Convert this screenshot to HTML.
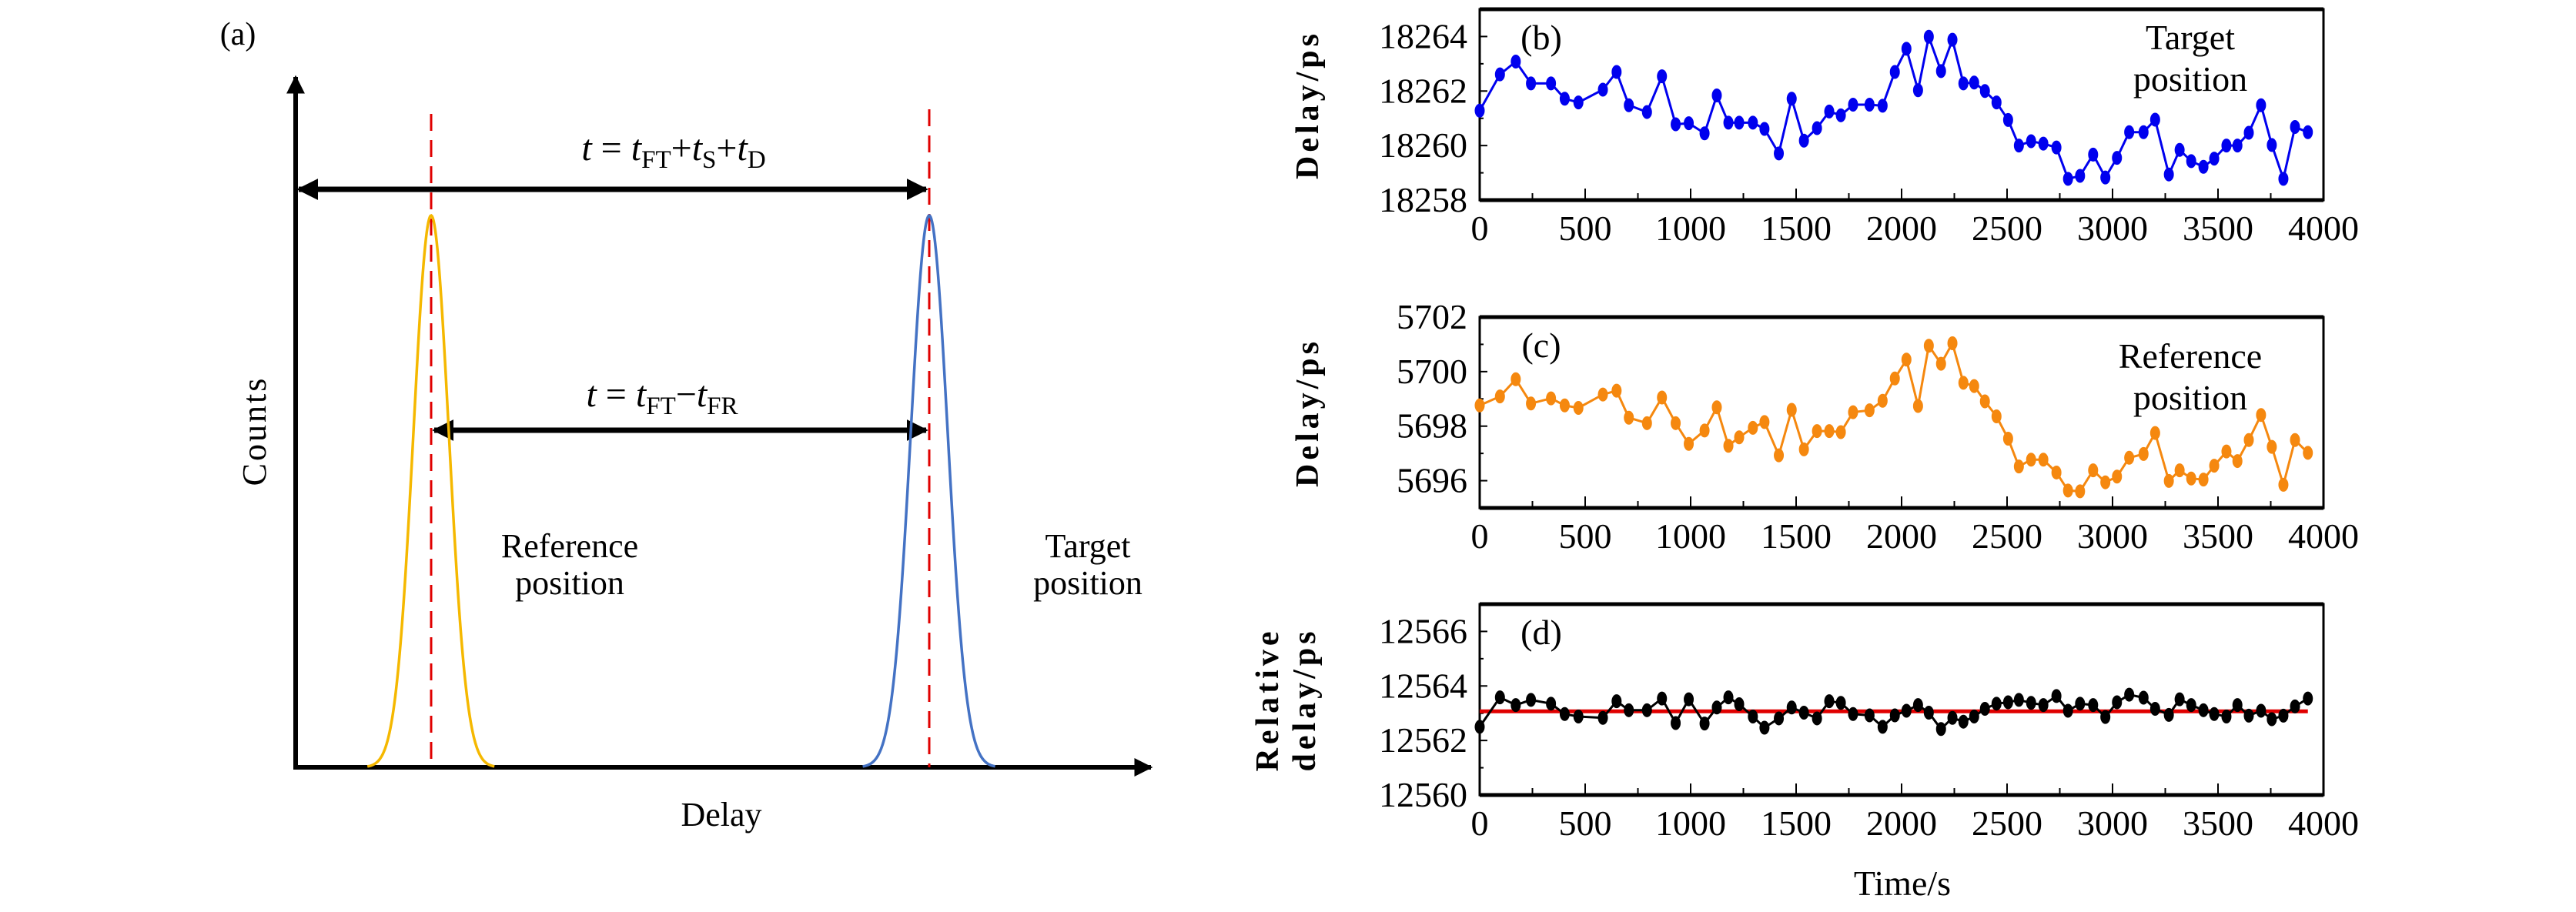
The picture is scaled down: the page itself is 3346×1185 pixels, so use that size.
<!DOCTYPE html>
<html><head><meta charset="utf-8"><style>
html,body{margin:0;padding:0;background:#fff;}
svg{display:block;font-family:"Liberation Serif","DejaVu Serif",serif;}
svg text{font-family:"Liberation Serif","DejaVu Serif",serif;fill:#000;}
</style></head><body>
<svg id="fig" width="3346" height="1185" viewBox="0 0 3346 1185" xmlns="http://www.w3.org/2000/svg" font-family="Liberation Serif, serif">
<defs>
<marker id="ah" viewBox="0 0 10 10" refX="9" refY="5" markerWidth="4" markerHeight="4" orient="auto-start-reverse"><path d="M0,0 L10,5 L0,10 z" fill="#000"/></marker>
</defs>
<g id="panelA">
<text x="309" y="58" font-size="42" text-anchor="middle">(a)</text>
<line x1="384" y1="997" x2="384" y2="100" stroke="#000" stroke-width="6" marker-end="url(#ah)"/>
<line x1="381" y1="997" x2="1495" y2="997" stroke="#000" stroke-width="6" marker-end="url(#ah)"/>
<text transform="translate(345,560) rotate(-90)" font-size="44" text-anchor="middle" letter-spacing="3">Counts</text>
<text x="937" y="1073" font-size="44" text-anchor="middle">Delay</text>
<line x1="560" y1="148" x2="560" y2="997" stroke="#e00000" stroke-width="3" stroke-dasharray="22,12"/>
<line x1="1207" y1="142" x2="1207" y2="997" stroke="#e00000" stroke-width="3" stroke-dasharray="22,12"/>
<line x1="388" y1="246" x2="1203" y2="246" stroke="#000" stroke-width="7" marker-start="url(#ah)" marker-end="url(#ah)"/>
<line x1="564" y1="559" x2="1203" y2="559" stroke="#000" stroke-width="7" marker-start="url(#ah)" marker-end="url(#ah)"/>
<text x="875" y="208" font-size="48" text-anchor="middle"><tspan font-style="italic">t</tspan> = <tspan font-style="italic">t</tspan><tspan font-size="33" dy="10">FT</tspan><tspan dy="-10">+</tspan><tspan font-style="italic">t</tspan><tspan font-size="33" dy="10">S</tspan><tspan dy="-10">+</tspan><tspan font-style="italic">t</tspan><tspan font-size="33" dy="10">D</tspan></text>
<text x="860" y="528" font-size="48" text-anchor="middle"><tspan font-style="italic">t</tspan> = <tspan font-style="italic">t</tspan><tspan font-size="33" dy="10">FT</tspan><tspan dy="-10">−</tspan><tspan font-style="italic">t</tspan><tspan font-size="33" dy="10">FR</tspan></text>
<text x="740" y="724" font-size="44" text-anchor="middle">Reference</text>
<text x="740" y="772" font-size="44" text-anchor="middle">position</text>
<text x="1413" y="724" font-size="44" text-anchor="middle">Target</text>
<text x="1413" y="772" font-size="44" text-anchor="middle">position</text>
</g>
<g id="charts"></g>
</svg>
<script>
const times = [0,96,171,243,338,403,468,584,649,707,793,864,929,991,1066,1124,1179,1230,1295,1350,1418,1479,1537,1599,1657,1712,1770,1848,1910,1968,2023,2078,2129,2187,2241,2293,2344,2395,2450,2505,2556,2614,2672,2734,2789,2846,2908,2966,3021,3079,3147,3202,3267,3318,3373,3431,3482,3540,3592,3646,3704,3755,3810,3865,3926];
const targetDelay = [18261.28,18262.61,18263.08,18262.28,18262.28,18261.72,18261.58,18262.05,18262.7,18261.48,18261.23,18262.54,18260.78,18260.82,18260.45,18261.84,18260.84,18260.84,18260.84,18260.61,18259.71,18261.72,18260.18,18260.64,18261.25,18261.11,18261.5,18261.5,18261.46,18262.7,18263.55,18262.03,18263.99,18262.73,18263.88,18262.28,18262.31,18262.0,18261.58,18260.94,18260.0,18260.16,18260.07,18259.93,18258.78,18258.89,18259.67,18258.83,18259.55,18260.49,18260.49,18260.95,18258.94,18259.84,18259.43,18259.22,18259.52,18260.0,18260.0,18260.47,18261.48,18260.02,18258.78,18260.68,18260.49];
const referenceDelay = [5698.76,5699.09,5699.72,5698.83,5699.02,5698.76,5698.67,5699.16,5699.3,5698.31,5698.11,5699.05,5698.11,5697.35,5697.84,5698.69,5697.28,5697.59,5697.94,5698.15,5696.93,5698.6,5697.15,5697.82,5697.82,5697.78,5698.51,5698.58,5698.93,5699.75,5700.44,5698.74,5700.95,5700.29,5701.04,5699.59,5699.47,5698.91,5698.36,5697.54,5696.52,5696.77,5696.77,5696.3,5695.64,5695.61,5696.38,5695.94,5696.15,5696.84,5696.98,5697.75,5695.99,5696.38,5696.08,5696.04,5696.55,5697.07,5696.72,5697.49,5698.41,5697.24,5695.85,5697.49,5697.02];
const relativeDelay = [12562.5,12563.58,12563.3,12563.49,12563.35,12562.97,12562.88,12562.83,12563.44,12563.11,12563.11,12563.54,12562.64,12563.51,12562.62,12563.21,12563.58,12563.33,12562.88,12562.47,12562.81,12563.21,12563.02,12562.81,12563.44,12563.38,12562.97,12562.92,12562.5,12562.92,12563.09,12563.3,12563.02,12562.42,12562.83,12562.69,12562.88,12563.16,12563.35,12563.4,12563.49,12563.38,12563.3,12563.63,12563.09,12563.35,12563.3,12562.86,12563.4,12563.68,12563.57,12563.16,12562.94,12563.51,12563.3,12563.11,12562.97,12562.88,12563.3,12562.91,12563.09,12562.78,12562.91,12563.25,12563.54];
const relativeMean = 12563.07;
const xTicks = [0,500,1000,1500,2000,2500,3000,3500,4000];
const bTicks = [18258,18260,18262,18264];
const cTicks = [5696,5698,5700,5702];
const dTicks = [12560,12562,12564,12566];

const NS = "http://www.w3.org/2000/svg";
const root = document.getElementById('charts');
function mk(tag, attrs, parent){const e=document.createElementNS(NS,tag);for(const k in attrs)e.setAttribute(k,attrs[k]);(parent||root).appendChild(e);return e;}

function peak(cx, sigma, color, name){
  let d='';
  for(let i=-3.6*sigma;i<=3.6*sigma;i+=1){
    const y=997-(997-280)*Math.exp(-(i*i)/(2*sigma*sigma));
    d+=(d?'L':'M')+(cx+i).toFixed(1)+','+y.toFixed(1);
  }
  const p=mk('path',{d:d,fill:'none',stroke:color,'stroke-width':3.5});
  
  
}
peak(560,23,'#f5b800','reference-peak-curve');
peak(1207,24,'#4472c4','target-peak-curve');

function chart(o){
  const L=1922,R=3018,T=o.top,B=o.top+248;
  const g=mk('g',{});
  
  
  const sx=v=>L+(R-L)*v/4000;
  const sy=v=>B-(B-T)*(v-o.min)/(o.max-o.min);
  const box=mk('rect',{x:L,y:T,width:R-L,height:B-T,fill:'none',stroke:'#000','stroke-width':3},g);
  
  
  mk('line',{x1:L,y1:T,x2:R,y2:T,stroke:'#000','stroke-width':5},g);
  mk('line',{x1:L,y1:B,x2:R,y2:B,stroke:'#000','stroke-width':5},g);
  for(let v=0;v<=4000;v+=250){
    const major=v%500===0;
    mk('line',{x1:sx(v),y1:B,x2:sx(v),y2:B-(major?15:9),stroke:'#000','stroke-width':2},g);
  }
  xTicks.forEach(v=>{
    const t=mk('text',{x:sx(v),y:B+52,'font-size':46,'text-anchor':'middle'},g);t.textContent=v;
    
    
  });
  for(let v=o.min;v<=o.max;v+=1){
    mk('line',{x1:L,y1:sy(v),x2:L+((v-o.ticks[0])%2===0?10:5),y2:sy(v),stroke:'#000','stroke-width':2},g);
  }
  o.ticks.forEach(v=>{
    const t=mk('text',{x:L-16,y:sy(v)+15,'font-size':46,'text-anchor':'end'},g);t.textContent=v;
    
    
  });
  const yl=mk('text',{transform:`translate(${o.ylx},${(T+B)/2}) rotate(-90)`,'font-size':42,'font-weight':'bold','text-anchor':'middle','letter-spacing':5},g);
  
  
  o.ylabel.forEach((s,i)=>{const ts=mk('tspan',{x:0,dy:i?48:0},yl);ts.textContent=s;});
  if(o.mean!==undefined){
    const ml=mk('line',{x1:sx(0),y1:sy(o.mean),x2:sx(3926),y2:sy(o.mean),stroke:'#e00000','stroke-width':5},g);
    
    
  }
  const d=times.map((t,i)=>(i?'L':'M')+sx(t).toFixed(1)+','+sy(o.vals[i]).toFixed(1)).join('');
  const ln=mk('path',{d:d,fill:'none',stroke:o.color,'stroke-width':3},g);
  
  
  times.forEach((t,i)=>{
    const c=mk('ellipse',{cx:sx(t),cy:sy(o.vals[i]),rx:6.5,ry:9,fill:o.color},g);
    
    
  });
  const pl=mk('text',{x:L+80,y:T+52,'font-size':46,'text-anchor':'middle'},g);pl.textContent=o.label;
  
  
  (o.note||[]).forEach((s,i)=>{
    const t=mk('text',{x:2845,y:T+o.noteY+i*54,'font-size':46,'text-anchor':'middle'},g);t.textContent=s;
    
    
  });
  return {sx,sy,B};
}
chart({name:'panel-b-target-chart',top:12,min:18258,max:18265,ticks:bTicks,vals:targetDelay,color:'#0000ee',label:'(b)',ylabel:['Delay/ps'],ylx:1712,note:['Target','position'],noteY:52});
chart({name:'panel-c-reference-chart',top:412,min:5695,max:5702,ticks:cTicks,vals:referenceDelay,color:'#f5880f',label:'(c)',ylabel:['Delay/ps'],ylx:1712,note:['Reference','position'],noteY:66});
chart({name:'panel-d-relative-chart',top:785,min:12560,max:12567,ticks:dTicks,vals:relativeDelay,color:'#000',label:'(d)',ylabel:['Relative','delay/ps'],ylx:1660,mean:relativeMean});
const xt=mk('text',{x:2471,y:1163,'font-size':46,'text-anchor':'middle'});xt.textContent='Time/s';


</script>
</body></html>
